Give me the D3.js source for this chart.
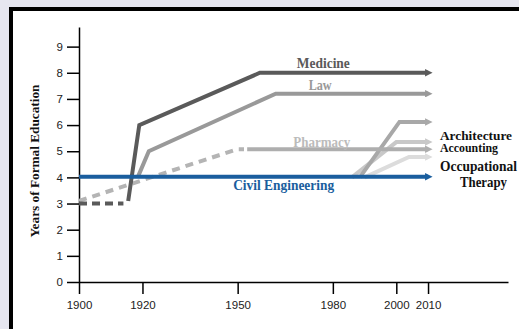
<!DOCTYPE html>
<html><head><meta charset="utf-8">
<script src="https://cdn.jsdelivr.net/npm/d3@7"></script>
<style>
html,body{margin:0;padding:0;background:#e6e6f0;}
svg{display:block;}
</style></head>
<body>
<script>
// ---- data ----
const xTicks = [1900, 1920, 1950, 1980, 2000, 2010];
const yTicks = [0, 1, 2, 3, 4, 5, 6, 7, 8, 9];
const yLabel = "Years of Formal Education";

const medicineEarly = [[1900, 3.0], [1914, 3.0]];
const medicine = [[1915.5, 3.1], [1919, 6.0], [1957, 8.0], [2010, 8.0]];
const law = [[1918.5, 4.0], [1922, 5.0], [1962, 7.2], [2010, 7.2]];
const pharmacyEarly = [[1900, 3.1], [1950, 5.08], [1952, 5.08]];
const pharmacy = [[1953, 5.08], [2010, 5.08]];
const architecture = [[1988.5, 4.0], [2001, 6.12], [2010, 6.12]];
const accounting = [[1986, 4.0], [2000, 5.35], [2010, 5.35]];
const occupationalTherapy = [[1990, 4.0], [2004, 4.78], [2010, 4.78]];
const civilEngineering = [[1900, 4.02], [2010, 4.02]];

// ---- layout ----
const W = 519, H = 329;
const svg = d3.select("body").append("svg").attr("width", W).attr("height", H);

// panel
svg.append("rect").attr("x", 0).attr("y", 0).attr("width", W).attr("height", H).attr("fill", "#e6e6f0");
svg.append("rect").attr("x", 11).attr("y", 9).attr("width", W + 20).attr("height", H + 20)
  .attr("fill", "#ffffff").attr("stroke", "#000").attr("stroke-width", 4);

const x = d3.scaleLinear().domain([1900, 2035.2]).range([79, 508]);
const y = d3.scaleLinear().domain([0, 9.75]).range([282, 27]);

// arrow markers
const defs = svg.append("defs");
function marker(id, color) {
  defs.append("marker").attr("id", id)
    .attr("viewBox", "0 0 10 10").attr("refX", 4).attr("refY", 5)
    .attr("markerWidth", 7.5).attr("markerHeight", 7.5)
    .attr("markerUnits", "userSpaceOnUse").attr("orient", "auto")
    .append("path").attr("d", "M0,0 L10,5 L0,10 Z").attr("fill", color);
  return "url(#" + id + ")";
}

const line = d3.line().x(d => x(d[0])).y(d => y(d[1]));

function draw(data, color, opts = {}) {
  const p = svg.append("path").datum(data).attr("d", line)
    .attr("fill", "none").attr("stroke", color).attr("stroke-width", opts.w || 4)
    .attr("stroke-linejoin", "miter");
  if (opts.dash) p.attr("stroke-dasharray", opts.dash);
  if (opts.arrow) p.attr("marker-end", marker(opts.arrow, color));
}

// axes
const xAxis = d3.axisBottom(x).tickValues(xTicks).tickFormat(d3.format("d"))
  .tickSize(12).tickSizeOuter(0).tickPadding(7);
const gx = svg.append("g").attr("transform", `translate(0,${y(0)})`).call(xAxis);
gx.select(".domain").attr("stroke", "#000").attr("stroke-width", 1.5);
gx.selectAll(".tick line").attr("stroke", "#000").attr("stroke-width", 1.5);
gx.selectAll("text").attr("font-family", "Liberation Sans, Arial, sans-serif").attr("font-size", 11.5).attr("fill", "#222");

const yAxis = d3.axisLeft(y).tickValues(yTicks).tickSize(12).tickSizeOuter(0).tickPadding(4);
const gy = svg.append("g").attr("transform", `translate(${x(1900)},0)`).call(yAxis);
gy.select(".domain").attr("stroke", "#000").attr("stroke-width", 1.5);
gy.selectAll(".tick line").attr("stroke", "#000").attr("stroke-width", 1.5);
gy.selectAll("text").attr("font-family", "Liberation Sans, Arial, sans-serif").attr("font-size", 11.5).attr("fill", "#222");

// series
draw(occupationalTherapy, "#dcdcdc", { arrow: "aOT" });
draw(accounting, "#c8c8c8", { arrow: "aAcc" });
draw(architecture, "#a8a8a8", { arrow: "aArch" });
draw(pharmacyEarly, "#b4b4b4", { dash: "8,6" });
draw(pharmacy, "#aeaeae", { arrow: "aPh" });
draw(law, "#999999", { arrow: "aLaw" });
draw(medicineEarly, "#5a5a5a", { dash: "8,5" });
draw(medicine, "#5a5a5a", { arrow: "aMed" });
draw(civilEngineering, "#1a5e9e", { arrow: "aCE" });

// labels
const serif = "Liberation Serif, Times New Roman, serif";
function label(t, xx, yy, color, anchor, len, size) {
  svg.append("text").attr("x", xx).attr("y", yy).text(t)
    .attr("font-family", serif).attr("font-weight", "bold").attr("font-size", size || 14)
    .attr("fill", color).attr("text-anchor", anchor || "middle")
    .attr("textLength", len).attr("lengthAdjust", "spacingAndGlyphs");
}
label("Medicine", x(1977), y(8) - 5, "#5a5a5a", "middle", 53);
label("Law", x(1976), y(7.2) - 4, "#999999", "middle", 23);
label("Pharmacy", x(1976.5), y(5.08) - 2, "#bbbbbb", "middle", 57);
label("Civil Engineering", x(1964.5), y(4.02) + 13, "#1a5e9e", "middle", 101);
label("Architecture", 440, 140, "#111", "start", 72, 13.5);
label("Accounting", 440, 152, "#111", "start", 58, 13.5);
label("Occupational", 440, 171, "#111", "start", 77);
label("Therapy", 460, 187, "#111", "start", 47);

svg.append("text").attr("transform", "translate(39,161) rotate(-90)").text(yLabel)
  .attr("font-family", serif).attr("font-weight", "bold").attr("font-size", 12.5)
  .attr("fill", "#111").attr("text-anchor", "middle")
  .attr("textLength", 153).attr("lengthAdjust", "spacingAndGlyphs");
</script>
</body></html>
